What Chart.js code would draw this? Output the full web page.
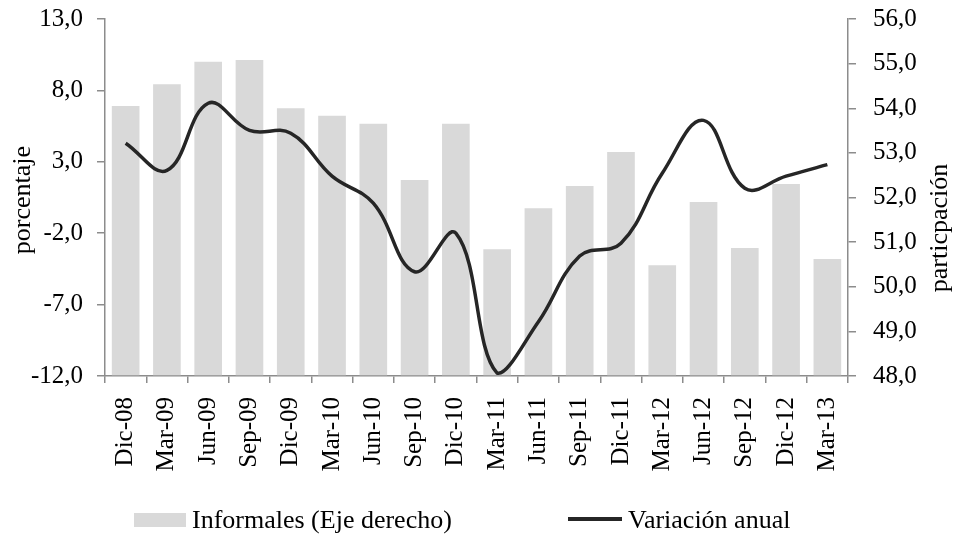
<!DOCTYPE html>
<html>
<head>
<meta charset="utf-8">
<script src="https://cdn.jsdelivr.net/npm/chart.js@4"></script>
<style>
  html, body { margin: 0; padding: 0; background: #fff; }
  #wrap { position: relative; width: 958px; height: 535px; }
  #legend { position: absolute; left: 0; top: 504px; width: 958px; height: 31px;
            font-family: "Liberation Serif", "Times New Roman", serif; font-size: 26px; color: #000; }
  .lg { position: absolute; top: 0; white-space: nowrap; line-height: 31px; }
  .sw { position: absolute; }
</style>
</head>
<body>
<div id="wrap">
  <canvas id="c" width="958" height="535"></canvas>
  <div id="legend">
    <div class="sw" style="left:134px; top:9px; width:52px; height:14px; background:#d9d9d9;"></div>
    <div class="lg" style="left:192px;">Informales (Eje derecho)</div>
    <div class="sw" style="left:568px; top:13px; width:54px; height:4px; background:#262626;"></div>
    <div class="lg" style="left:628px;">Variación anual</div>
  </div>
</div>
<script>
const categories = ['Dic-08','Mar-09','Jun-09','Sep-09','Dic-09','Mar-10','Jun-10','Sep-10','Dic-10','Mar-11','Jun-11','Sep-11','Dic-11','Mar-12','Jun-12','Sep-12','Dic-12','Mar-13'];
const informales = [54.05, 54.54, 55.04, 55.08, 54.0, 53.83, 53.65, 52.39, 53.65, 50.84, 51.76, 52.26, 53.02, 50.48, 51.9, 50.87, 52.3, 50.62];
const variacionAnual = [4.3, 2.4, 7.1, 5.2, 5.0, 2.0, 0.1, -4.7, -2.0, -11.8, -8.2, -3.6, -2.7, 2.2, 5.9, 1.15, 2.0, 2.8];
const leftTicks = [-12, -7, -2, 3, 8, 13];
const rightTicks = [48, 49, 50, 51, 52, 53, 54, 55, 56];
const leftTitle = 'porcentaje';
const rightTitle = 'particpación';

const FONT = '"Liberation Serif", "Times New Roman", serif';
const AXIS = '#8c8c8c';
const fmt = v => v.toFixed(1).replace('.', ',');
const zp = s => { s.paddingTop = 0; s.paddingBottom = 0; s.paddingLeft = 0; s.paddingRight = 0; };

const titlePlugin = {
  id: 'axisTitles',
  afterDraw(chart) {
    const ctx = chart.ctx;
    [[leftTitle, 23, 200], [rightTitle, 940, 228]].forEach(([t, x, y]) => {
      ctx.save();
      ctx.fillStyle = '#000';
      ctx.font = '26px ' + FONT;
      ctx.textAlign = 'center';
      ctx.textBaseline = 'middle';
      ctx.translate(x, y);
      ctx.rotate(-Math.PI / 2);
      ctx.fillText(t, 0, 0);
      ctx.restore();
    });
  }
};

new Chart(document.getElementById('c'), {
  type: 'bar',
  data: {
    labels: categories,
    datasets: [
      {
        type: 'line',
        label: 'Variación anual',
        data: variacionAnual,
        yAxisID: 'y',
        borderColor: '#262626',
        backgroundColor: '#262626',
        borderWidth: 3.5,
        pointRadius: 0,
        tension: 0.4,
        order: 0
      },
      {
        type: 'bar',
        label: 'Informales (Eje derecho)',
        data: informales,
        yAxisID: 'y1',
        backgroundColor: '#d9d9d9',
        borderWidth: 0,
        categoryPercentage: 1.0,
        barPercentage: 0.67,
        base: 48,
        order: 1
      }
    ]
  },
  options: {
    responsive: false,
    animation: false,
    layout: { padding: { top: 19, bottom: 59, left: 0, right: 0 } },
    plugins: { legend: { display: false }, tooltip: { enabled: false } },
    scales: {
      x: {
        offset: true,
        grid: { offset: true, drawOnChartArea: false, drawTicks: true, tickLength: 7, color: AXIS, lineWidth: 1.5 },
        border: { color: AXIS, width: 1.5 },
        ticks: { color: '#000', font: { family: FONT, size: 25 }, minRotation: 90, maxRotation: 90, padding: 14, autoSkip: false },
        afterFit(s) { s.height = 100; zp(s); }
      },
      y: {
        position: 'left',
        min: -12, max: 13,
        afterBuildTicks(s) { s.ticks = leftTicks.map(v => ({ value: v })); },
        grid: { drawOnChartArea: false, drawTicks: true, tickLength: 8, color: AXIS, lineWidth: 1.5 },
        border: { color: AXIS, width: 1.5 },
        ticks: { color: '#000', font: { family: FONT, size: 25 }, padding: 14, callback: v => fmt(v) },
        afterFit(s) { s.width = 105; zp(s); }
      },
      y1: {
        position: 'right',
        min: 48, max: 56,
        afterBuildTicks(s) { s.ticks = rightTicks.map(v => ({ value: v })); },
        grid: { drawOnChartArea: false, drawTicks: true, tickLength: 8, color: AXIS, lineWidth: 1.5 },
        border: { color: AXIS, width: 1.5 },
        ticks: { color: '#000', font: { family: FONT, size: 25 }, padding: 17, callback: v => fmt(v) },
        afterFit(s) { s.width = 110; zp(s); }
      }
    }
  },
  plugins: [titlePlugin]
});
</script>
</body>
</html>
